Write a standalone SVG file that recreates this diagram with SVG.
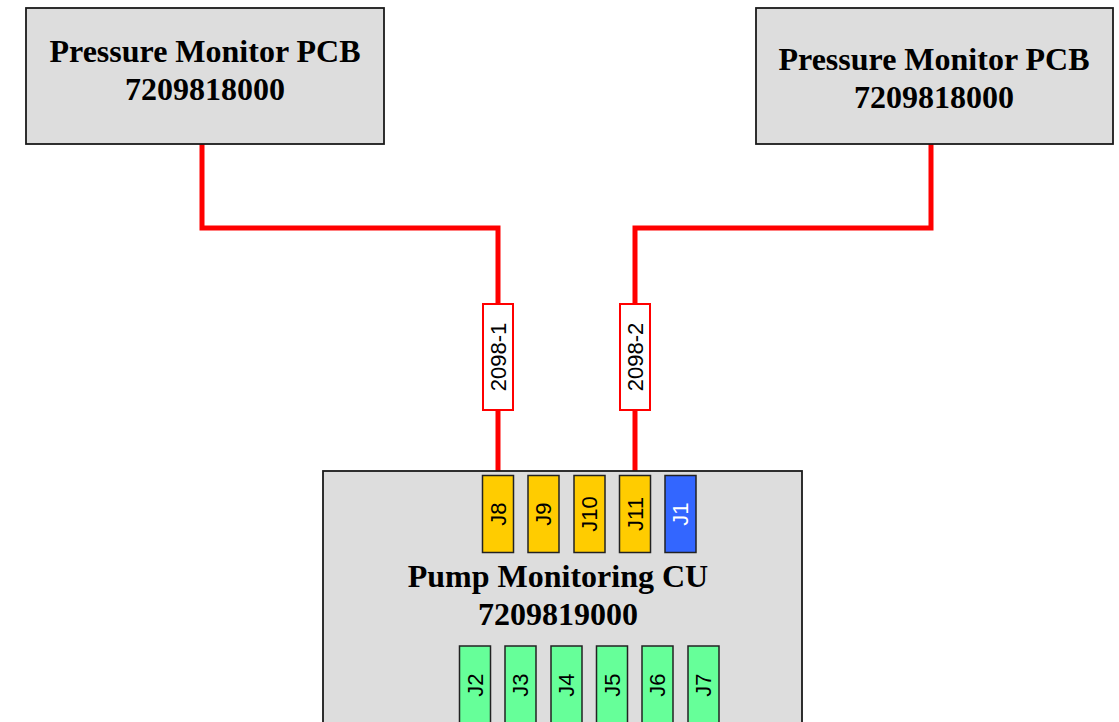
<svg xmlns="http://www.w3.org/2000/svg" width="1119" height="722" viewBox="0 0 1119 722">
<style>
.box{fill:#dddddd;stroke:#1a1a1a;stroke-width:1.8}
.title{font-family:"Liberation Serif","Times New Roman",serif;font-weight:bold;font-size:32px;fill:#000;text-anchor:middle}
.wire{fill:none;stroke:#ff0000;stroke-width:5;stroke-linejoin:miter}
.cable{fill:#ffffff;stroke:#ff0000;stroke-width:2}
.lbl{font-family:"Liberation Sans",Arial,sans-serif;font-size:22px;fill:#000;text-anchor:middle;dominant-baseline:central}
.y{fill:#ffcc00;stroke:#222;stroke-width:1.5}
.b{fill:#3366ff;stroke:#222;stroke-width:1.5}
.g{fill:#66ff99;stroke:#222;stroke-width:1.5}
</style>
<rect width="1119" height="722" fill="#ffffff"/>
<g id="connectors">
<polyline class="wire" points="202,144 202,228 498,228 498,303"/>
<line class="wire" x1="498" y1="411" x2="498" y2="475"/>
<polyline class="wire" points="931,144 931,228 635,228 635,303"/>
<line class="wire" x1="635" y1="411" x2="635" y2="475"/>
</g>
<g id="pcb-left">
<rect class="box" x="26" y="8" width="358" height="136"/>
<text class="title" x="205" y="62">Pressure Monitor PCB</text>
<text class="title" x="205" y="100">7209818000</text>
</g>
<g id="pcb-right">
<rect class="box" x="756" y="8" width="357" height="136"/>
<text class="title" x="934" y="70">Pressure Monitor PCB</text>
<text class="title" x="934" y="108">7209818000</text>
</g>
<g id="cable-2098-1">
<rect class="cable" x="483" y="304" width="30" height="106"/>
<text class="lbl" transform="translate(498,357) rotate(-90)">2098-1</text>
</g>
<g id="cable-2098-2">
<rect class="cable" x="620" y="304" width="30" height="106"/>
<text class="lbl" transform="translate(635,357) rotate(-90)">2098-2</text>
</g>
<g id="pump-cu">
<rect class="box" x="323" y="471" width="479" height="260"/>
<text class="title" x="558" y="587">Pump Monitoring CU</text>
<text class="title" x="558" y="625">7209819000</text>
</g>
<g id="J8"><rect class="y" x="482.5" y="475.5" width="31" height="77"/><text class="lbl" transform="translate(498,514) rotate(-90)">J8</text></g>
<g id="J9"><rect class="y" x="528" y="475.5" width="31" height="77"/><text class="lbl" transform="translate(543.5,514) rotate(-90)">J9</text></g>
<g id="J10"><rect class="y" x="574" y="475.5" width="31" height="77"/><text class="lbl" transform="translate(589.5,514) rotate(-90)">J10</text></g>
<g id="J11"><rect class="y" x="619.5" y="475.5" width="31" height="77"/><text class="lbl" transform="translate(635,514) rotate(-90)">J11</text></g>
<g id="J1"><rect class="b" x="665" y="475.5" width="31" height="77"/><text class="lbl" style="fill:#ffffff" transform="translate(680.5,514) rotate(-90)">J1</text></g>
<g id="J2"><rect class="g" x="459.5" y="646" width="31" height="78"/><text class="lbl" transform="translate(475,685) rotate(-90)">J2</text></g>
<g id="J3"><rect class="g" x="505" y="646" width="31" height="78"/><text class="lbl" transform="translate(520.5,685) rotate(-90)">J3</text></g>
<g id="J4"><rect class="g" x="551" y="646" width="31" height="78"/><text class="lbl" transform="translate(566.5,685) rotate(-90)">J4</text></g>
<g id="J5"><rect class="g" x="596.5" y="646" width="31" height="78"/><text class="lbl" transform="translate(612,685) rotate(-90)">J5</text></g>
<g id="J6"><rect class="g" x="642" y="646" width="31" height="78"/><text class="lbl" transform="translate(657.5,685) rotate(-90)">J6</text></g>
<g id="J7"><rect class="g" x="688" y="646" width="31" height="78"/><text class="lbl" transform="translate(703.5,685) rotate(-90)">J7</text></g>
</svg>
